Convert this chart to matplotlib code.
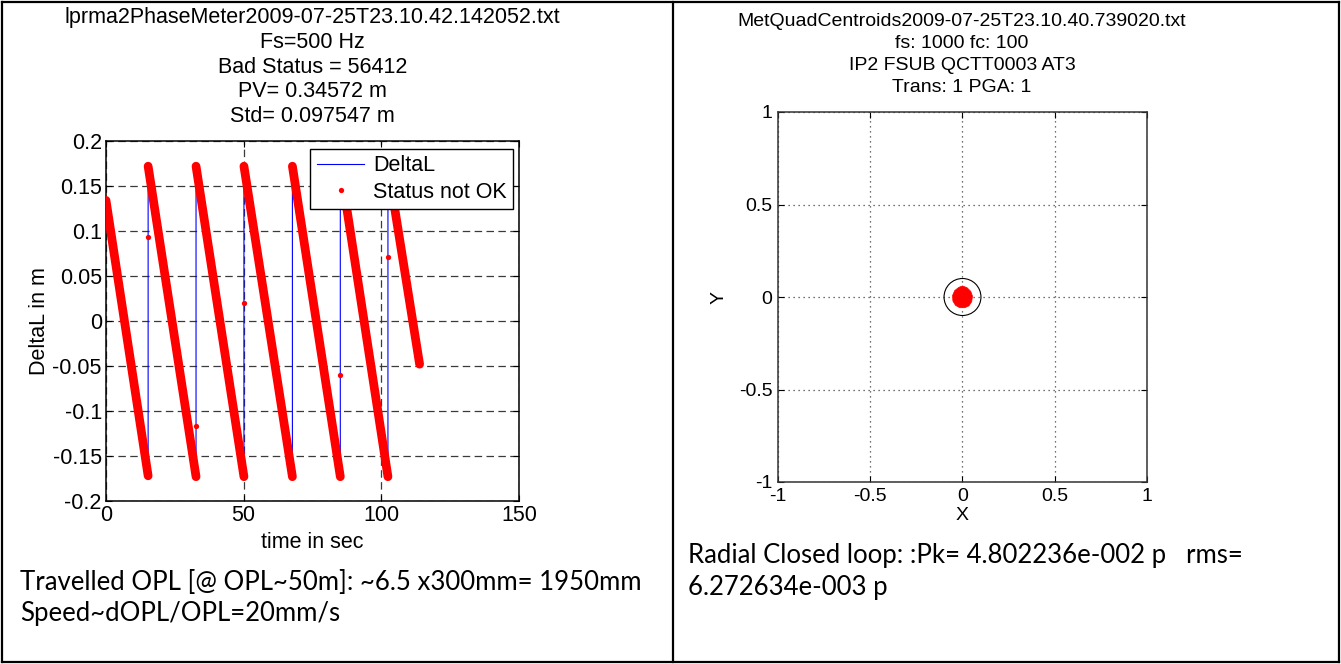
import matplotlib
matplotlib.use('Agg')
import matplotlib.pyplot as plt
from matplotlib.lines import Line2D
from matplotlib.patches import Circle

W, H = 1341, 664

# ---------------- data (left chart) ----------------
seg_t_start = [0.0, 15.3, 32.7, 50.1, 67.7, 85.1, 102.4]
seg_t_end = [15.3, 32.7, 50.1, 67.7, 85.1, 102.4, 113.9]
seg_y_start = [0.134, 0.172, 0.172, 0.172, 0.172, 0.172, 0.172]
seg_y_end = [-0.172, -0.173, -0.173, -0.173, -0.173, -0.173, -0.048]
bad_t = [15.3, 32.7, 50.1, 85.1, 102.4]
bad_y = [0.093, -0.117, 0.020, -0.060, 0.071]
left_xticks = [0, 50, 100, 150]
left_yticks = [-0.2, -0.15, -0.1, -0.05, 0, 0.05, 0.1, 0.15, 0.2]
left_ytick_labels = ['-0.2', '-0.15', '-0.1', '-0.05', '0', '0.05', '0.1', '0.15', '0.2']
left_title = ['lprma2PhaseMeter2009-07-25T23.10.42.142052.txt', 'Fs=500 Hz',
              'Bad Status = 56412', 'PV= 0.34572 m', 'Std= 0.097547 m']

# ---------------- data (right chart) ----------------
blob_x = [0.000, 0.025, 0.045, 0.054, 0.050, 0.035, 0.012, -0.015, -0.038, -0.052, -0.054, -0.042, -0.020]
blob_y = [0.060, 0.050, 0.030, 0.005, -0.025, -0.048, -0.058, -0.058, -0.045, -0.022, 0.008, 0.035, 0.052]
ring_radius = 0.1
right_ticks = [-1, -0.5, 0, 0.5, 1]
right_tick_labels = ['-1', '-0.5', '0', '0.5', '1']
right_title = ['MetQuadCentroids2009-07-25T23.10.40.739020.txt', 'fs: 1000 fc: 100',
               'IP2 FSUB QCTT0003 AT3', 'Trans: 1 PGA: 1']

caption_left = ['Travelled OPL [@ OPL~50m]: ~6.5 x300mm= 1950mm', 'Speed~dOPL/OPL=20mm/s']
caption_right = ['Radial Closed loop: :Pk= 4.802236e-002 p   rms=', '6.272634e-003 p']

plt.rcParams['font.family'] = ['Liberation Sans', 'DejaVu Sans']

fig = plt.figure(figsize=(W / 100, H / 100), dpi=100)
fig.patch.set_facecolor('white')


def fx(x):
    return x / W


def fy(y):
    return 1 - y / H


def axes_px(x0, y0, x1, y1):
    return fig.add_axes([fx(x0), fy(y1), (x1 - x0) / W, (y1 - y0) / H])


# ---------------- table borders ----------------
bw = 1.6
for xs, ys in [([2, 1339], [2, 2]), ([2, 1339], [662, 662]), ([2, 2], [2, 662]),
               ([1339, 1339], [2, 662]), ([673, 673], [2, 662])]:
    fig.add_artist(Line2D([fx(v) for v in xs], [fy(v) for v in ys],
                          transform=fig.transFigure, color='black', lw=bw))

LFS = 15.5
RFS = 14

# ---------------- left chart ----------------
ax = axes_px(106, 141, 519, 501)
line_t, line_y = [], []
for ts, te, ys, ye in zip(seg_t_start, seg_t_end, seg_y_start, seg_y_end):
    line_t += [ts, te]
    line_y += [ys, ye]
ax.plot(line_t, line_y, color='#0000ff', lw=0.8, label='DeltaL', zorder=2)
for ts, te, ys, ye in zip(seg_t_start, seg_t_end, seg_y_start, seg_y_end):
    ax.plot([ts, te], [ys, ye], color='#ff0000', lw=6.3, solid_capstyle='round', zorder=3)
ax.plot(bad_t, bad_y, linestyle='none', marker='o', markersize=3.8, color='#ff0000',
        markeredgewidth=0, label='Status not OK', zorder=4)
ax.set_xlim(0, 150)
ax.set_ylim(-0.2, 0.2)
ax.set_xticks(left_xticks)
ax.set_yticks(left_yticks)
ax.set_yticklabels(left_ytick_labels)
ax.grid(True, color='#3a3a3a', lw=0.9, linestyle=(0, (6, 3.5)))
ax.tick_params(direction='in', top=True, right=True, length=4, width=0.8,
               labelsize=LFS, pad=3)
for s in ax.spines.values():
    s.set_linewidth(1.1)
    s.set_color('black')
ax.set_xlabel('time in sec', fontsize=LFS, labelpad=4)
ax.set_ylabel('DeltaL in m', fontsize=LFS, labelpad=2)
leg = ax.legend(loc='upper right', bbox_to_anchor=((513 - 106) / 413, 1 - (149 - 141) / 360),
                borderaxespad=0, fancybox=False, edgecolor='black', framealpha=1,
                fontsize=LFS, handlelength=2.2, handletextpad=0.4, borderpad=0.3,
                labelspacing=0.25, numpoints=1)
leg.get_frame().set_linewidth(1.0)

for i, txt in enumerate(left_title):
    fig.text(fx(312.5), fy(18 + i * 24.6), txt, ha='center', va='center', fontsize=LFS)

# ---------------- right chart ----------------
ax2 = axes_px(778, 112, 1147, 482)
ax2.fill(blob_x, blob_y, color='#ff0000', lw=0.5, zorder=3)
ax2.add_patch(Circle((0, 0), ring_radius, fill=False, edgecolor='black', lw=0.8, zorder=4))
ax2.set_xlim(-1, 1)
ax2.set_ylim(-1, 1)
ax2.set_xticks(right_ticks)
ax2.set_xticklabels(right_tick_labels)
ax2.set_yticks(right_ticks)
ax2.set_yticklabels(right_tick_labels)
ax2.grid(True, color='#444444', lw=0.9, linestyle=(0, (1, 3)))
ax2.tick_params(direction='in', top=True, right=True, length=4, width=0.8,
                labelsize=RFS, pad=4)
for s in ax2.spines.values():
    s.set_linewidth(1.1)
    s.set_color('#333333')
ax2.set_xlabel('X', fontsize=RFS, labelpad=2)
ax2.set_ylabel('Y', fontsize=RFS, labelpad=8)

for i, txt in enumerate(right_title):
    fig.text(fx(962), fy(22 + i * 21.7), txt, ha='center', va='center', fontsize=RFS)

# ---------------- captions ----------------
cap_font = ['Lato', 'DejaVu Sans']
CFS = 18.5
for i, txt in enumerate(caption_left):
    fig.text(fx(20), fy(582 + i * 31), txt, ha='left', va='center', fontsize=CFS,
             family=cap_font)
for i, txt in enumerate(caption_right):
    fig.text(fx(688), fy(556 + i * 31), txt, ha='left', va='center', fontsize=CFS,
             family=cap_font)

fig.savefig('out.png', dpi=100)
